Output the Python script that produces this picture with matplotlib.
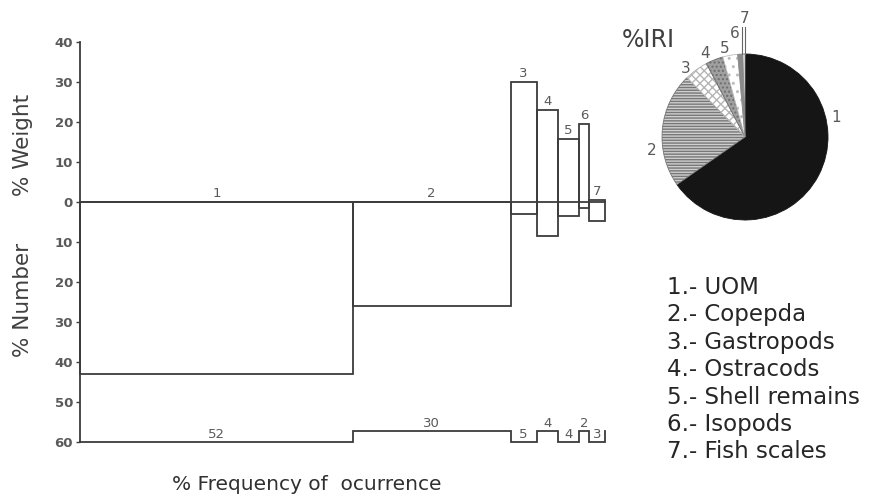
import numpy as np
import matplotlib
matplotlib.use("Agg")
import matplotlib.pyplot as plt
from matplotlib.patches import Rectangle

# ---------------- data ----------------
item_ids = ["1", "2", "3", "4", "5", "6", "7"]
item_names = ["UOM", "Copepda", "Gastropods", "Ostracods", "Shell remains", "Isopods", "Fish scales"]
freq = [52, 30, 5, 4, 4, 2, 3]                      # % frequency of occurrence
weight = [0, 0, 30, 23, 15.75, 19.5, 0.5]           # % weight (upwards)
number = [43, 26, 3, 8.5, 3.5, 1.5, 4.75]           # % number (downwards)
iri = [65.3, 22.4, 4.6, 3.4, 2.9, 1.0, 0.4]         # % IRI
yticks_vals = [40, 30, 20, 10, 0, -10, -20, -30, -40, -50, -60]
ytick_labels = ["40", "30", "20", "10", "0", "10", "20", "30", "40", "50", "60"]

LC = "#3c3c3c"
TC = "#5a5a5a"
W, H = 869, 504
fig = plt.figure(figsize=(W / 100, H / 100), dpi=100)
fig.patch.set_facecolor("white")

# ---------------- main Costello-type plot ----------------
ax = fig.add_axes([80 / W, (H - 442) / H, 525 / W, 400 / H])
ax.set_xlim(0, 100)
ax.set_ylim(-60, 40)
for s in ["top", "right", "bottom"]:
    ax.spines[s].set_visible(False)
ax.spines["left"].set_color(LC)
ax.spines["left"].set_linewidth(1.3)
ax.set_xticks([])
ax.set_yticks(yticks_vals)
ax.set_yticklabels(ytick_labels, fontsize=9.5, fontweight="bold", color=TC)
ax.tick_params(axis="y", length=3, width=1, color=LC, pad=2)

x0s = np.concatenate([[0], np.cumsum(freq)[:-1]])
ax.plot([0, 100], [0, 0], color=LC, lw=1.3, clip_on=False)
for i in range(len(freq)):
    r = Rectangle((x0s[i], -number[i]), freq[i], weight[i] + number[i],
                  fill=False, edgecolor=LC, lw=1.3, clip_on=False)
    ax.add_patch(r)
    ax.text(x0s[i] + freq[i] / 2, weight[i] + 0.5, item_ids[i], ha="center", va="bottom",
            fontsize=9.5, color=TC)

# bottom frequency strip
base, raised = -60, -57.25
xs, ys = [0], [base]
for i in range(len(freq)):
    lvl = base if i % 2 == 0 else raised
    xs += [x0s[i], x0s[i] + freq[i]]
    ys += [lvl, lvl]
xs.append(100)
ys.append(raised)
ax.plot(xs, ys, color=LC, lw=1.3, clip_on=False, solid_joinstyle="miter")
for i in range(len(freq)):
    lvl = base if i % 2 == 0 else raised
    ax.text(x0s[i] + freq[i] / 2, lvl + 0.2, str(freq[i]), ha="center", va="bottom",
            fontsize=9.5, color=TC)

# axis labels
fig.text(23 / W, 1 - 145 / H, "% Weight", rotation=90, ha="center", va="center",
         fontsize=15.5, color="#404040")
fig.text(23 / W, 1 - 300 / H, "% Number", rotation=90, ha="center", va="center",
         fontsize=15.5, color="#404040")
fig.text(307 / W, 1 - 484 / H, "% Frequency of  ocurrence", ha="center", va="center",
         fontsize=14.5, color="#303030")

# ---------------- pie (%IRI) ----------------
cx, cy, rr = 745, 137, 83
pax = fig.add_axes([(cx - rr) / W, (H - cy - rr) / H, 2 * rr / W, 2 * rr / H])
faces = ["#151515", "#cfcfcf", "white", "#a0a0a0", "white", "#8a8a8a", "white"]
hatches = ["", "------", "xxxx", "....", "..", "", ""]
hcols = ["#151515", "#777777", "#b5b5b5", "#6e6e6e", "#bdbdbd", "#8a8a8a", "#888888"]
wedges, _ = pax.pie(iri, startangle=90, counterclock=False, radius=1.0)
for w, fc, hc, ht in zip(wedges, faces, hcols, hatches):
    w.set_facecolor(fc)
    w.set_edgecolor(hc)
    w.set_hatch(ht)
    w.set_linewidth(0.6)
pax.set_xlim(-1, 1)
pax.set_ylim(-1, 1)
pax.set_aspect("equal")
pax.axis("off")

label_pos = [(1.10, 0.23), (-1.12, -0.16), (-0.72, 0.83), (-0.48, 1.01),
             (-0.24, 1.07), (-0.12, 1.25), (-0.01, 1.43)]
for lab, (lx, ly) in zip(item_ids, label_pos):
    pax.text(lx, ly, lab, ha="center", va="center", fontsize=11, color=TC, clip_on=False)
pax.plot([-0.035, -0.035], [1.0, 1.33], color="#666666", lw=0.8, clip_on=False)
pax.plot([-0.005, -0.005], [1.0, 1.33], color="#666666", lw=0.8, clip_on=False)

fig.text(622 / W, 1 - 40 / H, "%IRI", ha="left", va="center", fontsize=17, color="#404040")

# ---------------- legend text ----------------
for i, (lab, name) in enumerate(zip(item_ids, item_names)):
    fig.text(667 / W, 1 - (287 + 27.5 * i) / H, f"{lab}.- {name}", ha="left", va="center",
             fontsize=16.5, color="#262626")

fig.savefig("out.png", dpi=100)
